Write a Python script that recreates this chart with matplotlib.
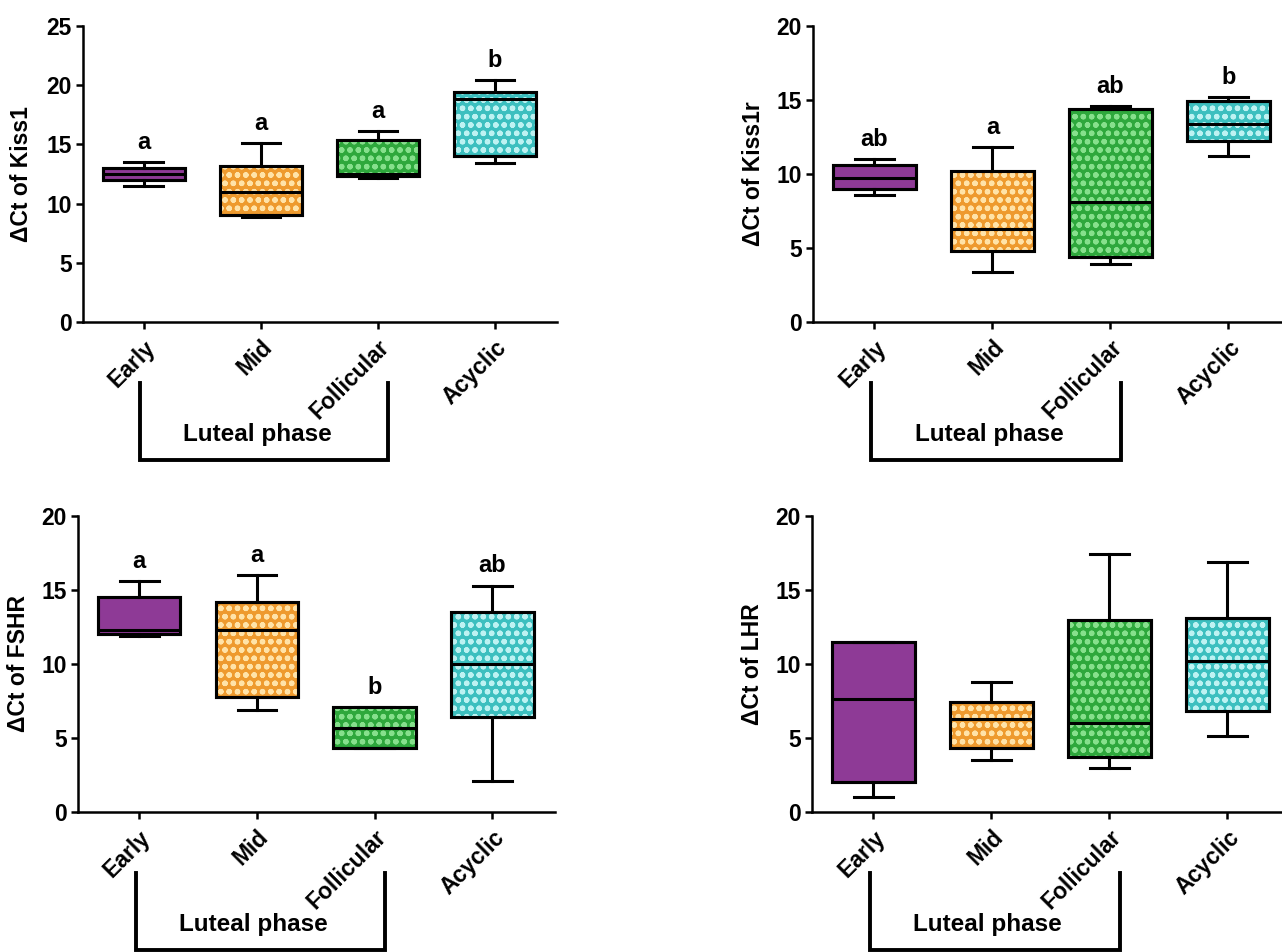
import matplotlib
matplotlib.use("Agg")
import matplotlib.pyplot as plt
from matplotlib.patches import PathPatch
from matplotlib.transforms import blended_transform_factory

plt.rcParams['font.family'] = ['Liberation Sans', 'DejaVu Sans']
plt.rcParams['font.weight'] = 'bold'
plt.rcParams['hatch.linewidth'] = 1.6

groups = ["Early", "Mid", "Follicular", "Acyclic"]
box_colors = ["#8E3A96", "#EE9A2E", "#2EA83C", "#3CBFBF"]
dot_colors = [None, "#FFE3A8", "#86E08C", "#BDF2F2"]

# Kiss1
kiss1_lo = [11.5, 8.9, 12.2, 13.4]
kiss1_q1 = [12.0, 9.0, 12.3, 14.0]
kiss1_med = [12.5, 11.0, 12.5, 18.8]
kiss1_q3 = [13.0, 13.2, 15.4, 19.4]
kiss1_hi = [13.5, 15.1, 16.1, 20.4]
kiss1_letters = ["a", "a", "a", "b"]

# Kiss1r
kiss1r_lo = [8.6, 3.4, 3.9, 11.2]
kiss1r_q1 = [9.0, 4.8, 4.4, 12.2]
kiss1r_med = [9.7, 6.3, 8.1, 13.4]
kiss1r_q3 = [10.6, 10.2, 14.4, 14.9]
kiss1r_hi = [11.0, 11.8, 14.6, 15.2]
kiss1r_letters = ["ab", "a", "ab", "b"]

# FSHR
fshr_lo = [11.9, 6.9, 4.3, 2.1]
fshr_q1 = [12.0, 7.8, 4.3, 6.4]
fshr_med = [12.3, 12.3, 5.7, 10.0]
fshr_q3 = [14.5, 14.2, 7.1, 13.5]
fshr_hi = [15.6, 16.0, 7.1, 15.3]
fshr_letters = ["a", "a", "b", "ab"]

# LHR
lhr_lo = [1.0, 3.5, 3.0, 5.1]
lhr_q1 = [2.0, 4.3, 3.7, 6.8]
lhr_med = [7.6, 6.3, 6.0, 10.2]
lhr_q3 = [11.5, 7.4, 13.0, 13.1]
lhr_hi = [11.5, 8.8, 17.4, 16.9]
lhr_letters = ["", "", "", ""]

panels = [
    ("ΔCt of Kiss1", 25, [kiss1_lo, kiss1_q1, kiss1_med, kiss1_q3, kiss1_hi], kiss1_letters,
     [0.0647, 0.6618, 0.3697, 0.3109], -0.105),
    ("ΔCt of Kiss1r", 20, [kiss1r_lo, kiss1r_q1, kiss1r_med, kiss1r_q3, kiss1r_hi], kiss1r_letters,
     [0.6342, 0.6618, 0.3728, 0.3109], -0.10),
    ("ΔCt of FSHR", 20, [fshr_lo, fshr_q1, fshr_med, fshr_q3, fshr_hi], fshr_letters,
     [0.0608, 0.1471, 0.3720, 0.3109], -0.10),
    ("ΔCt of LHR", 20, [lhr_lo, lhr_q1, lhr_med, lhr_q3, lhr_hi], lhr_letters,
     [0.6334, 0.1471, 0.3728, 0.3109], -0.10),
]

fig = plt.figure(figsize=(12.82, 9.52), dpi=100)
positions = list(range(len(groups)))

for ylabel, ymax, vals, letters, rect, labx in panels:
    ax = fig.add_axes(rect)
    lo, q1, med, q3, hi = vals
    stats = [dict(whislo=lo[i], q1=q1[i], med=med[i], q3=q3[i], whishi=hi[i], fliers=[])
             for i in range(len(groups))]
    bp = ax.bxp(stats, positions=positions, widths=0.7, capwidths=0.33,
                patch_artist=True, showfliers=False,
                boxprops=dict(linewidth=2.2, edgecolor="black"),
                whiskerprops=dict(linewidth=2.2, color="black"),
                capprops=dict(linewidth=2.2, color="black"),
                medianprops=dict(linewidth=2.2, color="black"))
    for i, box in enumerate(bp["boxes"]):
        box.set_facecolor(box_colors[i])
        box.set_zorder(2)
        if dot_colors[i]:
            ax.add_patch(PathPatch(box.get_path(), facecolor="none", edgecolor=dot_colors[i],
                                   hatch="oo", lw=0, zorder=2.1))
        ax.add_patch(PathPatch(box.get_path(), facecolor="none", edgecolor="black",
                               lw=2.2, zorder=2.2))
    for m in bp["medians"]:
        m.set_zorder(3)

    for i, t in enumerate(letters):
        if t:
            ax.annotate(t, (positions[i], hi[i]), xytext=(0, 6), textcoords="offset points",
                        ha="center", va="bottom", fontsize=17, fontweight="bold")

    ax.set_xlim(-0.52, 3.53)
    ax.set_ylim(0, ymax)
    ax.set_yticks(range(0, ymax + 1, 5))
    ax.set_xticks(positions)
    ax.set_xticklabels(groups, rotation=45, ha="right", va="top", rotation_mode="anchor")
    for s in ["top", "right"]:
        ax.spines[s].set_visible(False)
    for s in ["left", "bottom"]:
        ax.spines[s].set_linewidth(1.8)
    ax.tick_params(axis="both", width=1.8, length=5, labelsize=16.5)
    ax.tick_params(axis="y", pad=3)
    ax.tick_params(axis="x", pad=5)
    ax.set_ylabel(ylabel, fontsize=16.5, fontweight="bold")
    ax.yaxis.set_label_coords(labx, 0.5)

    # bracket under the luteal-phase groups
    tr = blended_transform_factory(ax.transData, ax.transAxes)
    ax.plot([-0.03, -0.03, 2.09, 2.09], [-0.205, -0.468, -0.468, -0.205], color="black",
            lw=2.8, transform=tr, clip_on=False, solid_joinstyle="miter")
    ax.text(0.97, -0.38, "Luteal phase", transform=tr, ha="center", va="center",
            fontsize=17.5, fontweight="bold")

fig.savefig("out.png", dpi=100)
